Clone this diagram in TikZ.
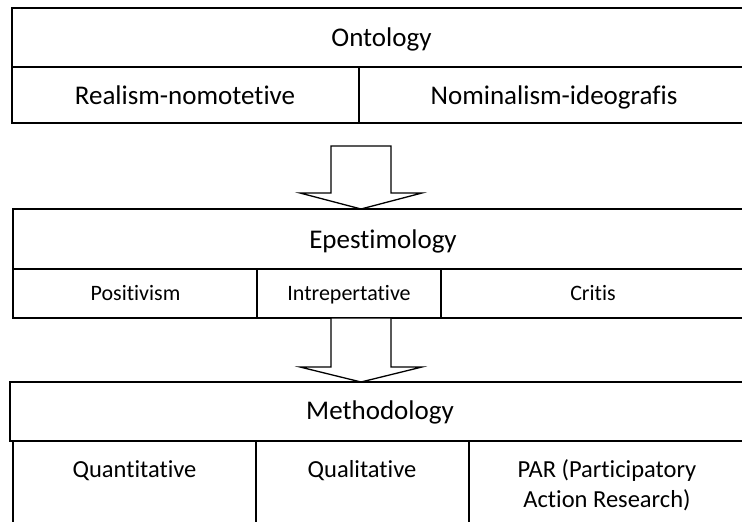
\documentclass[tikz,border=0pt]{standalone}
\usepackage{fontspec}
\setmainfont[Ligatures=NoCommon]{Carlito}
\begin{document}
\begin{tikzpicture}[x=1pt,y=-1pt,line width=1.4pt,line join=miter,
  hd/.style={font=\fontsize{27}{32}\selectfont,inner sep=0pt,anchor=base},
  sa/.style={font=\fontsize{27}{32}\selectfont,inner sep=0pt,anchor=base},
  sb/.style={font=\fontsize{22}{27}\selectfont,inner sep=0pt,anchor=base},
  sc/.style={font=\fontsize{24.5}{30}\selectfont,inner sep=0pt,anchor=base,align=center},
  blockarrow/.style={draw,fill=white,line width=1.3pt}]
\useasboundingbox (0,0) rectangle (742,522);
\clip (0,0) rectangle (742,522);
% Ontology
\draw (12,8) rectangle (760,123);
\draw (12,67) -- (760,67);
\draw (359,67) -- (359,123);
\node[hd] (onto) at (381.5,46) {Ontology};
\node[sa] (real) at (185,104) {Realism-nomotetive};
\node[sa] (nomi) at (554,104) {Nominalism-ideografis};
% arrow 1
\draw[blockarrow] (331,146) -- (391,146) -- (391,193) -- (422,193) -- (361,209) -- (300,193) -- (331,193) -- cycle;
% Epistemology
\draw (13,209) rectangle (760,318);
\draw (13,269) -- (760,269);
\draw (257,269) -- (257,318);
\draw (441,269) -- (441,318);
\node[hd] (epis) at (383,248) {Epestimology};
\node[sb] (posi) at (135.5,300) {Positivism};
\node[sb] (intr) at (349,300) {Intrepertative};
\node[sb] (crit) at (593,300) {Critis};
% arrow 2
\draw[blockarrow] (331,318) -- (391,318) -- (391,367) -- (422,367) -- (361,382) -- (300,367) -- (331,367) -- cycle;
% Methodology
\draw (10,382) rectangle (760,441);
\draw (13,441) rectangle (760,560);
\draw (256,441) -- (256,560);
\draw (469,441) -- (469,560);
\node[hd] (meth) at (380,419) {Methodology};
\node[sc] (quan) at (134.5,477) {Quantitative};
\node[sc] (qual) at (362,477) {Qualitative};
\node[sc] (par) at (607,507) {PAR (Participatory\\Action Research)};
\end{tikzpicture}
\end{document}
